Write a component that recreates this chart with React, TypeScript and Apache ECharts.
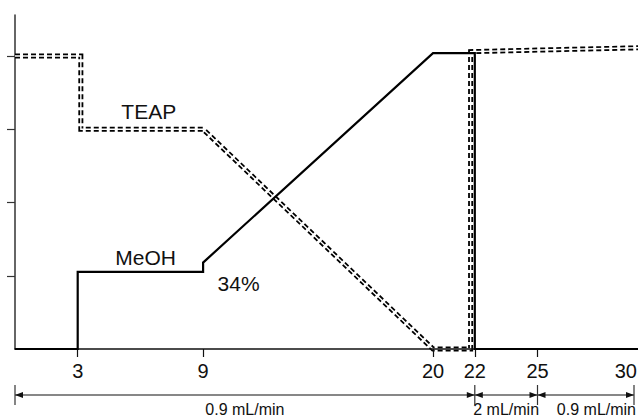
import React, { useEffect, useRef } from 'react';
import * as echarts from 'echarts';

const xTicks = [3, 9, 20, 22, 25, 30];
const yTicks = [25, 50, 75, 100];
const meohX = [0, 3, 3, 9, 9, 20, 22, 22, 30];
const meohY = [0, 0, 26.3, 26.3, 29.5, 101, 101, 0, 0];
const teapX = [0, 3.15, 3.15, 9, 20, 21.8, 21.8, 31];
const teapY = [100, 100, 75, 75, 0, 0, 101.5, 103];
const flowStart = [0, 22, 25];
const flowEnd = [22, 25, 30];
const flowText = ['0.9 mL/min', '2 mL/min', '0.9 mL/min'];
const noteText = ['TEAP', 'MeOH', '34%'];
const noteX = [6.4, 6.25, 10.7];
const noteY = [80.9, 31.4, 22.2];

const FONT = '"Liberation Sans", Arial, sans-serif';
const INK = '#111';

export default function App() {
  const ref = useRef<HTMLDivElement>(null);
  useEffect(() => {
    if (!ref.current) return;
    const chart = echarts.init(ref.current, undefined, { renderer: 'svg' });
    const meoh = meohX.map((x, i) => [x, meohY[i]]);
    const teap = teapX.map((x, i) => [x, teapY[i]]);
    chart.setOption({
      animation: false,
      backgroundColor: '#fff',
      grid: { left: 15, right: -4, top: 15, bottom: 70, containLabel: false, outerBoundsMode: 'none' },
      xAxis: {
        type: 'value', min: 0, max: 30, z: 5,
        axisLine: { show: true, lineStyle: { color: INK, width: 1.5 } },
        axisTick: { show: true, customValues: xTicks, length: 8, lineStyle: { color: INK, width: 1.2 } },
        axisLabel: {
          customValues: xTicks, fontSize: 20, color: INK, fontFamily: FONT, margin: 12, alignMaxLabel: 'right',
          formatter: (v: number) => (v === 30 ? '{r|30}' : String(v)),
          rich: { r: { fontSize: 20, color: INK, fontFamily: FONT, padding: [0, 5, 0, 0] } },
        },
        splitLine: { show: false },
      },
      yAxis: {
        type: 'value', min: 0, max: 114,
        axisLine: { show: true, lineStyle: { color: '#333', width: 1.5 } },
        axisTick: { show: true, customValues: yTicks, length: 8, lineStyle: { color: '#333', width: 1.2 } },
        axisLabel: { show: false },
        splitLine: { show: false },
      },
      series: [
        { type: 'line', data: teap, symbol: 'none', clip: false, z: 2,
          lineStyle: { color: '#000', width: 5, type: [5, 3], join: 'miter' } },
        { type: 'line', data: teap, symbol: 'none', clip: false, z: 3,
          lineStyle: { color: '#fff', width: 1.4, join: 'miter' } },
        { type: 'line', data: meoh, symbol: 'none', clip: false, z: 6,
          lineStyle: { color: '#000', width: 2.2, join: 'miter' } },
      ],
    });

    const px = (x: number, y: number) => chart.convertToPixel({ gridIndex: 0 }, [x, y]) as number[];
    const graphic: any[] = [];
    noteText.forEach((t, i) => {
      const p = px(noteX[i], noteY[i]);
      graphic.push({ type: 'text', x: p[0], y: p[1], z: 10,
        style: { text: t, fill: INK, font: `21px ${FONT}`, align: 'center', verticalAlign: 'middle' } });
    });
    const ay = 395;
    const bars = new Set<number>();
    flowStart.forEach((s, i) => {
      const xa = px(s, 0)[0];
      const xb = Math.min(px(flowEnd[i], 0)[0], 634);
      bars.add(xa); bars.add(xb);
      graphic.push({ type: 'line', shape: { x1: xa, y1: ay, x2: xb, y2: ay }, style: { stroke: INK, lineWidth: 1.2 } });
      graphic.push({ type: 'polygon', shape: { points: [[xa, ay], [xa + 8, ay - 3], [xa + 8, ay + 3]] }, style: { fill: INK } });
      graphic.push({ type: 'polygon', shape: { points: [[xb, ay], [xb - 8, ay - 3], [xb - 8, ay + 3]] }, style: { fill: INK } });
      const last = i === flowStart.length - 1;
      graphic.push({ type: 'text', x: last ? 636 : (xa + xb) / 2, y: 409,
        style: { text: flowText[i], fill: INK, font: `16px ${FONT}`, align: last ? 'right' : 'center', verticalAlign: 'middle' } });
    });
    bars.forEach((bx) => {
      graphic.push({ type: 'line', shape: { x1: bx, y1: 385, x2: bx, y2: 405 }, style: { stroke: '#333', lineWidth: 1.2 } });
    });
    chart.setOption({ graphic });
    return () => chart.dispose();
  }, []);
  return <div ref={ref} style={{ position: 'fixed', left: 0, top: 0, width: 638, height: 419 }} />;
}
